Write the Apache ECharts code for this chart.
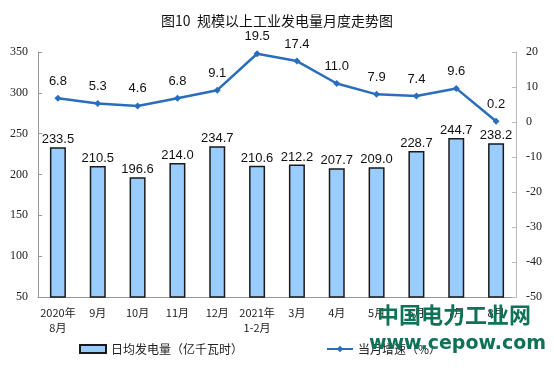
<!DOCTYPE html>
<html><head><meta charset="utf-8">
<script src="https://cdn.jsdelivr.net/npm/echarts@6/dist/echarts.min.js"></script>
<style>html,body{margin:0;padding:0;background:#fff}#c{width:554px;height:374px}</style>
</head><body><div id="c"></div>
<script>
const categories = ['2020年\n8月','9月','10月','11月','12月','2021年\n1-2月','3月','4月','5月','6月','7月','8月'];
const dailyGen = [233.5,210.5,196.6,214.0,234.7,210.6,212.2,207.7,209.0,228.7,244.7,238.2];
const growth = [6.8,5.3,4.6,6.8,9.1,19.5,17.4,11.0,7.9,7.4,9.6,0.2];
const leftTicks = {min:50,max:350,interval:50};
const rightTicks = {min:-50,max:20,interval:10};

const chart = echarts.init(document.getElementById('c'));
const axisFont = {fontFamily:'Liberation Serif',fontSize:12,color:'#222'};
chart.setOption({
  animation:false,
  title:{text:'图10  规模以上工业发电量月度走势图',left:'center',top:9,
    textStyle:{fontFamily:'Noto Sans CJK SC',fontSize:14,fontWeight:'normal',color:'#111'}},
  grid:{left:38,right:38,top:52,bottom:77},
  legend:{bottom:14,left:74,itemGap:83,itemWidth:26,itemHeight:8,
    textStyle:{fontFamily:'Noto Sans CJK SC',fontSize:12,color:'#222'},
    data:[{name:'日均发电量（亿千瓦时）',icon:'rect'},{name:'当月增速（%）'}]},
  xAxis:{type:'category',data:categories,
    axisLine:{onZero:false,lineStyle:{color:'#999'}},
    axisTick:{inside:true,length:3,lineStyle:{color:'#999'}},
    axisLabel:{fontFamily:'Noto Sans CJK SC',fontSize:11,color:'#222',lineHeight:15,interval:0,margin:8}},
  yAxis:[
    {type:'value',min:leftTicks.min,max:leftTicks.max,interval:leftTicks.interval,
     splitLine:{show:false},axisLine:{show:true,lineStyle:{color:'#999'}},
     axisTick:{show:true,inside:true,length:4,lineStyle:{color:'#999'}},
     axisLabel:Object.assign({margin:10},axisFont)},
    {type:'value',min:rightTicks.min,max:rightTicks.max,interval:rightTicks.interval,
     splitLine:{show:false},axisLine:{show:true,lineStyle:{color:'#bbb'}},
     axisTick:{show:true,inside:true,length:4,lineStyle:{color:'#bbb'}},
     axisLabel:Object.assign({margin:10},axisFont)}
  ],
  series:[
    {name:'日均发电量（亿千瓦时）',type:'bar',data:dailyGen,barWidth:16,
     itemStyle:{color:'#99ccff',borderColor:'#1a1a1a',borderWidth:1.5},
     label:{show:true,position:'top',distance:1,formatter:p=>p.value.toFixed(1),
       fontFamily:'Liberation Sans',fontSize:13,color:'#111'}},
    {name:'当月增速（%）',type:'line',yAxisIndex:1,data:growth,
     symbol:'diamond',symbolSize:7,
     lineStyle:{color:'#2a6ebb',width:2.5},itemStyle:{color:'#2a6ebb'},
     label:{show:true,position:'top',distance:7,formatter:p=>p.value.toFixed(1),
       fontFamily:'Liberation Sans',fontSize:13,color:'#111'}}
  ],
  graphic:[
    {type:'text',left:377,top:304,z:100,style:{text:'中国电力工业网',
      font:'bold 22px "Noto Sans CJK SC"',fill:'#0e7355'}},
    {type:'text',left:369,top:335,z:100,style:{text:'www.cepow.com',
      font:'bold 19px "DejaVu Sans"',fill:'#0e7355'}}
  ]
});
</script></body></html>
